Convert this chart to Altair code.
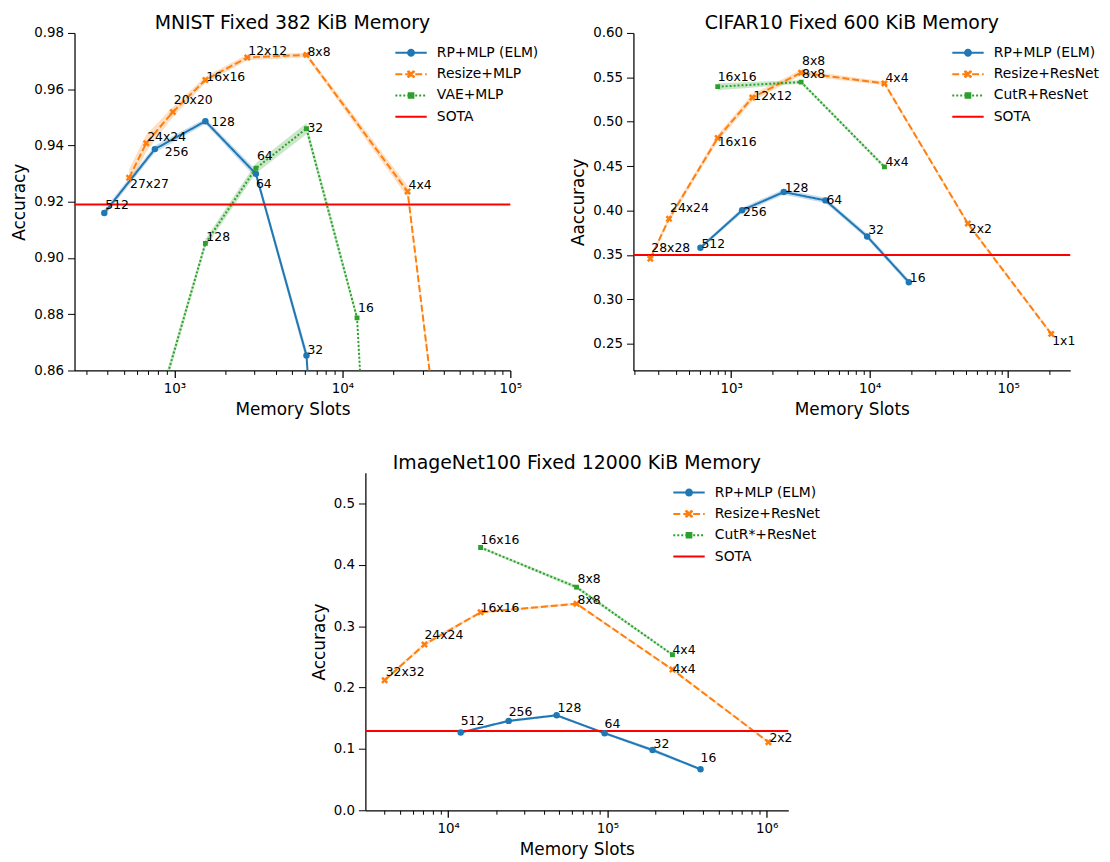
import math
import altair as alt
import pandas as pd

FONT = "DejaVu Sans"
BLUE, ORANGE, GREEN, RED = "#1f77b4", "#ff7f0e", "#2ca02c", "#ff0000"

# ---------------- MNIST, fixed 382 KiB ----------------
mnist_names = ["RP+MLP (ELM)", "Resize+MLP", "VAE+MLP"]
mnist_rp_labels = ["512", "256", "128", "64", "32", "16"]
mnist_rp_slots = [382, 764, 1528, 3056, 6112, 12224]
mnist_rp_acc = [0.9160, 0.9387, 0.9486, 0.9299, 0.8653, 0.600]
mnist_rp_err = [0.0012, 0.0012, 0.0010, 0.0015, 0.0020, 0.0020]

mnist_rs_labels = ["27x27", "24x24", "20x20", "16x16", "12x12", "8x8", "4x4", "2x2"]
mnist_rs_slots = [537, 679, 978, 1528, 2716, 6112, 24448, 97792]
mnist_rs_acc = [0.9285, 0.9408, 0.9519, 0.9633, 0.9713, 0.9722, 0.9236, 0.630]
mnist_rs_err = [0.0030, 0.0030, 0.0018, 0.0012, 0.0010, 0.0008, 0.0020, 0.0030]

mnist_vae_labels = ["256", "128", "64", "32", "16", "8"]
mnist_vae_slots = [764, 1528, 3056, 6112, 12224, 24448]
mnist_vae_acc = [0.843, 0.9052, 0.9319, 0.9460, 0.8787, 0.560]
mnist_vae_err = [0.0020, 0.0015, 0.0018, 0.0020, 0.0015, 0.0020]
mnist_sota = 0.919

# ---------------- CIFAR10, fixed 600 KiB ----------------
cifar_names = ["RP+MLP (ELM)", "Resize+ResNet", "CutR+ResNet"]
cifar_rp_labels = ["512", "256", "128", "64", "32", "16"]
cifar_rp_slots = [600, 1200, 2400, 4800, 9600, 19200]
cifar_rp_acc = [0.3582, 0.4003, 0.4209, 0.4115, 0.3709, 0.3194]
cifar_rp_err = [0.002, 0.003, 0.003, 0.003, 0.003, 0.003]

cifar_rs_labels = ["28x28", "24x24", "16x16", "12x12", "8x8", "4x4", "2x2", "1x1"]
cifar_rs_slots = [261, 356, 800, 1422, 3200, 12800, 51200, 204800]
cifar_rs_acc = [0.3459, 0.3907, 0.4817, 0.5272, 0.5552, 0.5432, 0.3854, 0.2612]
cifar_rs_err = [0.003, 0.003, 0.004, 0.004, 0.003, 0.002, 0.002, 0.002]

cifar_cut_labels = ["16x16", "8x8", "4x4"]
cifar_cut_slots = [800, 3200, 12800]
cifar_cut_acc = [0.5395, 0.5447, 0.4492]
cifar_cut_err = [0.004, 0.002, 0.002]
cifar_sota = 0.35

# ---------------- ImageNet100, fixed 12000 KiB ----------------
inet_names = ["RP+MLP (ELM)", "Resize+ResNet", "CutR*+ResNet"]
inet_rp_labels = ["512", "256", "128", "64", "32", "16"]
inet_rp_slots = [12000, 24000, 48000, 96000, 192000, 384000]
inet_rp_acc = [0.1267, 0.1456, 0.1547, 0.1256, 0.0981, 0.0668]
inet_rp_err = [0.002, 0.002, 0.002, 0.002, 0.003, 0.002]

inet_rs_labels = ["32x32", "24x24", "16x16", "8x8", "4x4", "2x2"]
inet_rs_slots = [4000, 7111, 16000, 64000, 256000, 1024000]
inet_rs_acc = [0.2120, 0.2702, 0.3225, 0.3365, 0.2292, 0.1110]
inet_rs_err = [0.003, 0.003, 0.002, 0.002, 0.002, 0.002]

inet_cut_labels = ["16x16", "8x8", "4x4"]
inet_cut_slots = [16000, 64000, 256000]
inet_cut_acc = [0.4282, 0.3635, 0.2535]
inet_cut_err = [0.002, 0.003, 0.002]
inet_sota = 0.129

# ---------------- styling: label nudges (dx, dy in px) ----------------
NUDGE = {
    "mnist": [
        [(1, -4), (10, 7), (6, 5), (0, 14), (1, -2), (1, 0)],
        [(1, 10), (1, -2), (1, -8), (1, 1), (1, -2), (1, 1), (1, -3), (1, 0)],
        [(1, 0), (1, -2), (1, -8), (1, 3), (1, -6), (1, 0)],
    ],
    "cifar": [
        [(1, 0), (1, 6), (1, 0), (1, 4), (1, -2), (1, 0)],
        [(1, -7), (1, -7), (0, 8), (1, 2), (1, -8), (1, -1), (1, 10), (1, 11)],
        [(0, -6), (1, -4), (1, -1)],
    ],
    "inet": [
        [(0, -8), (0, -5), (1, -3), (0, -5), (1, -2), (0, -7)],
        [(1, -4), (0, -5), (0, 0), (1, 0), (0, 3), (1, 0)],
        [(0, -3), (1, -4), (0, -1)],
    ],
}

COLORS = [BLUE, ORANGE, GREEN, RED]
DASHES = [[1, 0], [7, 3], [2, 2]]


def x_path(a=1.0, w=0.34):
    pts = [(w, a), (w, w), (a, w), (a, -w), (w, -w), (w, -a), (-w, -a),
           (-w, -w), (-a, -w), (-a, w), (-w, w), (-w, a)]
    r = [((x - y) / math.sqrt(2), (x + y) / math.sqrt(2)) for x, y in pts]
    return "M" + "L".join(f"{x:.3f},{y:.3f}" for x, y in r) + "Z"


# legend symbols: a stroked path = line sample + marker (size 1000 -> ~15.8 px/unit)
SC = math.sqrt(1000) / 2


def seg_path(on, off):
    s, x = "", -1.0
    while x < 1.0:
        e = min(x + on, 1.0)
        s += f"M{x:.3f},0L{e:.3f},0"
        x = e + off
    return s


def ring(r):
    return f"M{r},0A{r},{r},0,1,1,{-r},0A{r},{r},0,1,1,{r},0"


def sq(h):
    return f"M{-h},{-h}L{h},{-h}L{h},{h}L{-h},{h}Z"


XM = "".join(f"M{-0.2 + o:.3f},-0.2L{0.2 + o:.3f},0.2M{-0.2 + o:.3f},0.2L{0.2 + o:.3f},-0.2"
             for o in (-0.03, 0.03))
LEG_PATHS = [
    "M-1,0L1,0" + ring(0.19) + ring(0.07),
    seg_path(7 / SC, 3 / SC) + XM,
    seg_path(2 / SC, 2 / SC) + sq(0.15) + sq(0.05),
    "M-1,0L1,0",
]
POINT_STYLE = [("circle", 42), (x_path(), 55), ("square", 24)]

MAJOR = "indexof([100,1000,10000,100000,1000000], datum.value) >= 0"
LABEL_EXPR = ("datum.value == 100 ? '10²' : datum.value == 1000 ? '10³' : "
              "datum.value == 10000 ? '10⁴' : datum.value == 100000 ? '10⁵' : "
              "datum.value == 1000000 ? '10⁶' : ''")
INDEP = dict(color="independent", shape="independent", strokeDash="independent")


def panel(key, title, names, series, sota, xdom, ydom, yticks, yfmt, ytitle,
          w, h, legx, legy, toff):
    rows = []
    for k, (labels, slots, acc, err) in enumerate(series):
        for i in range(len(slots)):
            dx, dy = NUDGE[key][k][i]
            rows.append(dict(series=names[k], kind=k, mem=slots[i], acc=acc[i],
                             lo=acc[i] - err[i], hi=acc[i] + err[i],
                             label=labels[i], nudge=f"{dx}_{dy}"))
    df = pd.DataFrame(rows)
    sota_df = pd.DataFrame({"series": ["SOTA"], "acc": [sota]})
    domain = names + ["SOTA"]
    cscale = alt.Scale(domain=domain, range=COLORS)

    xvals = [m * 10 ** e for e in range(1, 8) for m in range(1, 10)
             if xdom[0] <= m * 10 ** e <= xdom[1]]
    xaxis = alt.Axis(values=xvals, title="Memory Slots", labelExpr=LABEL_EXPR,
                     tickSize={"condition": {"test": MAJOR, "value": 7}, "value": 4},
                     tickWidth={"condition": {"test": MAJOR, "value": 1.25}, "value": 1},
                     labelOverlap=False, labelFlush=False, grid=False,
                     labelPadding=4, titlePadding=7)
    yaxis = alt.Axis(values=yticks, format=yfmt, title=ytitle, tickSize=7,
                     labelPadding=4, labelFlush=False, labelOverlap=False,
                     grid=False, titlePadding=5)
    xs = alt.Scale(type="log", domain=xdom, nice=False)
    ys = alt.Scale(domain=ydom, nice=False, zero=False)
    X = alt.X("mem:Q", scale=xs, axis=xaxis)
    Y = alt.Y("acc:Q", scale=ys, axis=yaxis)

    legend = alt.Legend(
        orient="none", legendX=legx, legendY=legy, title=None,
        symbolSize=1000, symbolStrokeWidth=2, symbolOpacity=1,
        clipHeight=14, labelOffset=9, rowPadding=7.5, padding=0,
        labelFont=FONT, labelFontSize=14, labelColor="black")
    C = alt.Color("series:N", scale=cscale)

    base = alt.Chart(df)
    # legend-only layer (no rows pass the filter; entries come from the scale domain)
    leg_layer = base.transform_filter("false").mark_point(
        filled=False, strokeWidth=2).encode(
        x=X, y=Y,
        color=alt.Color("series:N", scale=cscale, legend=legend),
        shape=alt.Shape("series:N", scale=alt.Scale(domain=domain, range=LEG_PATHS),
                        legend=legend))
    band = base.mark_area(opacity=0.25, clip=True).encode(
        x=X, y=alt.Y("lo:Q", scale=ys, axis=yaxis), y2="hi:Q", color=C,
        detail="series:N")
    line = base.mark_line(strokeWidth=2, clip=True).encode(
        x=X, y=Y, color=C,
        strokeDash=alt.StrokeDash("series:N",
                                  scale=alt.Scale(domain=names, range=DASHES),
                                  legend=None))
    pts = []
    for k, (shape, size) in enumerate(POINT_STYLE):
        pts.append(base.transform_filter(alt.datum.kind == k).mark_point(
            filled=True, shape=shape, size=size, opacity=1, clip=True).encode(
            x=X, y=Y, color=C))
    rule = alt.Chart(sota_df).mark_rule(strokeWidth=2).encode(y=Y, color=C)
    texts = []
    for nd in sorted(set(df["nudge"])):
        dx, dy = (float(v) for v in nd.split("_"))
        texts.append(base.transform_filter(
            (alt.datum.nudge == nd) & (alt.datum.acc >= ydom[0])).mark_text(
            align="left", baseline="alphabetic", dx=dx, dy=dy, font=FONT,
            fontSize=12.5, color="black").encode(
            x=X, y=Y, text="label:N"))
    return alt.layer(leg_layer, band, line, rule, *pts, *texts).properties(
        width=w, height=h,
        title=alt.TitleParams(title, font=FONT, fontSize=19, fontWeight="normal",
                              color="black", anchor="middle", frame="group",
                              offset=toff))


p1 = panel("mnist", "MNIST Fixed 382 KiB Memory", mnist_names,
           [(mnist_rp_labels, mnist_rp_slots, mnist_rp_acc, mnist_rp_err),
            (mnist_rs_labels, mnist_rs_slots, mnist_rs_acc, mnist_rs_err),
            (mnist_vae_labels, mnist_vae_slots, mnist_vae_acc, mnist_vae_err)],
           mnist_sota, [254, 100000], [0.86, 0.98],
           [0.86, 0.88, 0.90, 0.92, 0.94, 0.96, 0.98], ".2f", "Accuracy",
           439, 340, 322, 13, -7)
p2 = panel("cifar", "CIFAR10 Fixed 600 KiB Memory", cifar_names,
           [(cifar_rp_labels, cifar_rp_slots, cifar_rp_acc, cifar_rp_err),
            (cifar_rs_labels, cifar_rs_slots, cifar_rs_acc, cifar_rs_err),
            (cifar_cut_labels, cifar_cut_slots, cifar_cut_acc, cifar_cut_err)],
           cifar_sota, [197, 281000], [0.22, 0.60],
           [0.25, 0.30, 0.35, 0.40, 0.45, 0.50, 0.55, 0.60], ".2f", "Aaccuracy",
           440, 340, 320, 13, -7)
p3 = panel("inet", "ImageNet100 Fixed 12000 KiB Memory", inet_names,
           [(inet_rp_labels, inet_rp_slots, inet_rp_acc, inet_rp_err),
            (inet_rs_labels, inet_rs_slots, inet_rs_acc, inet_rs_err),
            (inet_cut_labels, inet_cut_slots, inet_cut_acc, inet_cut_err)],
           inet_sota, [3027, 1365000], [0.0, 0.55],
           [0.0, 0.1, 0.2, 0.3, 0.4, 0.5], ".1f", "Accuracy",
           426, 340, 309, 13, 0)

spacer = alt.Chart(pd.DataFrame({"s": []})).mark_point(opacity=0).properties(
    width=237, height=10)

top = alt.hconcat(p1, p2, spacing=30).resolve_scale(**INDEP).resolve_legend(**INDEP)
bottom = alt.hconcat(spacer, p3, spacing=0).resolve_scale(**INDEP).resolve_legend(**INDEP)
chart = alt.vconcat(top, bottom, spacing=36).resolve_scale(**INDEP).resolve_legend(
    **INDEP).properties(
    padding={"left": 2, "right": 2, "top": 3, "bottom": 2}
).configure_view(stroke=None).configure_axis(
    domainColor="black", domainWidth=1.25, tickColor="black",
    labelColor="black", titleColor="black", labelFont=FONT, titleFont=FONT,
    labelFontSize=13.5, titleFontSize=17, titleFontWeight="normal")

chart.save("out.html", embed_options={"renderer": "svg", "actions": False})
